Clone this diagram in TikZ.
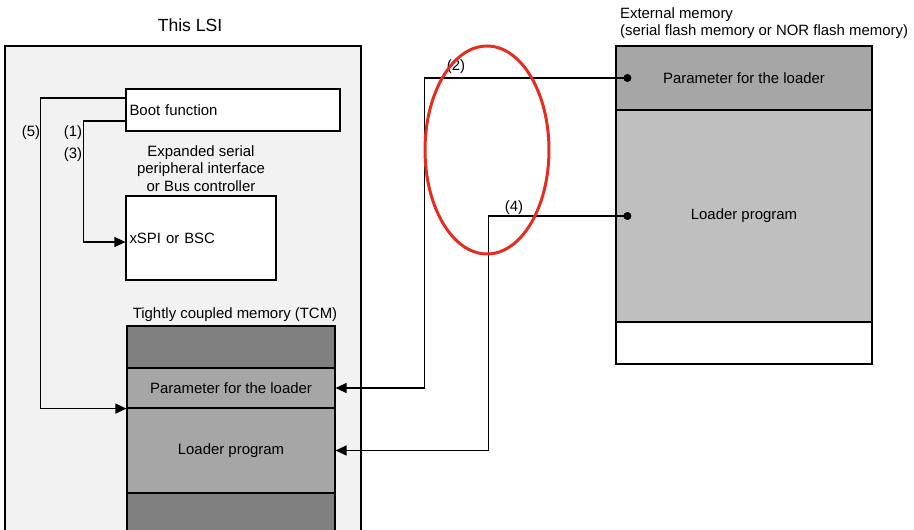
\documentclass[tikz,border=0pt]{standalone}
\usepackage{fontspec}
\setmainfont{Liberation Sans}
\usetikzlibrary{arrows.meta,positioning,calc}
\definecolor{lsicolor}{RGB}{242,242,242}
\definecolor{darkseg}{RGB}{128,128,128}
\definecolor{midseg}{RGB}{166,166,166}
\definecolor{lightseg}{RGB}{191,191,191}
\definecolor{markcolor}{RGB}{228,44,32}
\tikzset{
  blockbox/.style={draw, line width=0.7pt, fill=white, inner sep=2pt},
  memseg/.style={draw, line width=0.7pt, inner sep=0pt, font=\fontsize{8.5}{10}\selectfont},
  arrowln/.style={-{Triangle[length=2.2mm,width=2mm]}, line width=0.7pt},
  txt/.style={font=\fontsize{8.5}{9.9}\selectfont, inner sep=1pt},
}
\newcommand{\srcdot}[1]{%
  \fill #1 circle (0.08cm);
}

\begin{document}
\begin{tikzpicture}[x=0.02cm, y=-0.02cm]
    \useasboundingbox (0,0) rectangle (914,530);
    % this LSI
    \node[font=\fontsize{10}{12}\selectfont] (title) at (190,25) {This LSI};
    \node[draw, line width=0.7pt, fill=lsicolor, minimum width=7.12cm, minimum height=9.88cm] (lsi) at (183,293) {};
    \node[blockbox, minimum width=4.28cm, minimum height=0.84cm, text width=4.14cm, align=left, txt] (boot) at (233,110) {Boot function};
    \node[blockbox, minimum width=3cm, minimum height=1.68cm, text width=2.86cm, align=left, txt] (xspi) at (201,238) {xSPI or BSC};
    \node[txt, align=center, above=1pt of xspi] (xspilbl) {Expanded serial\\peripheral interface\\or Bus controller};
    % TCM
    \node[memseg, fill=darkseg, minimum width=4.16cm, minimum height=0.84cm] (tcmtop) at (231,347) {};
    \node[memseg, fill=midseg, minimum width=4.16cm, minimum height=0.8cm] (tcmpar) at (231,388) {Parameter for the loader};
    \node[memseg, fill=midseg, minimum width=4.16cm, minimum height=1.7cm] (tcmldr) at (231,450.5) {Loader program};
    \node[memseg, fill=darkseg, minimum width=4.16cm, minimum height=1.04cm] (tcmbot) at (231,519) {};
    \node[txt, above=1pt of tcmtop, xshift=0.08cm] (tcmlbl) {Tightly coupled memory (TCM)};
    % external memory
    \node[memseg, fill=midseg, minimum width=5.12cm, minimum height=1.28cm] (extpar) at (744,78) {Parameter for the loader};
    \node[memseg, fill=lightseg, minimum width=5.12cm, minimum height=4.24cm] (extldr) at (744,216) {Loader program};
    \node[memseg, fill=white, minimum width=5.12cm, minimum height=0.84cm] (extfree) at (744,343) {};
    \node[txt, align=left, anchor=south west] (extlbl) at (618,41) {External memory\\(serial flash memory or NOR flash memory)};
    % transfers
    \coordinate (d2) at ([xshift=0.24cm]extpar.west);
    \coordinate (d4) at ([xshift=0.24cm]extldr.west);
    \draw[arrowln] ([yshift=0.24cm]boot.west) -- ++(-85,0) |- (tcmpar.south west);
    \draw[arrowln] ([yshift=-0.22cm]boot.west) -- ++(-42,0) |- ([yshift=-0.08cm]xspi.west);
    \draw[arrowln] (d2) -- ++(-203,0) |- (tcmpar.east);
    \draw[arrowln] (d4) -- ++(-139,0) |- (tcmldr.east);
    \srcdot{(d2)}
    \srcdot{(d4)}
    \node[txt] (n5) at (31,133) {(5)};
    \node[txt] (n1) at (73,133) {(1)};
    \node[txt] (n3) at (73,155) {(3)};
    \node[txt] (n2) at (456,67) {(2)};
    \node[txt] (n4) at (514,208) {(4)};
    % highlight
    \draw[markcolor, line width=1.7pt] (487,150) ellipse [x radius=1.24cm, y radius=2.08cm];
  \end{tikzpicture}
\end{document}
